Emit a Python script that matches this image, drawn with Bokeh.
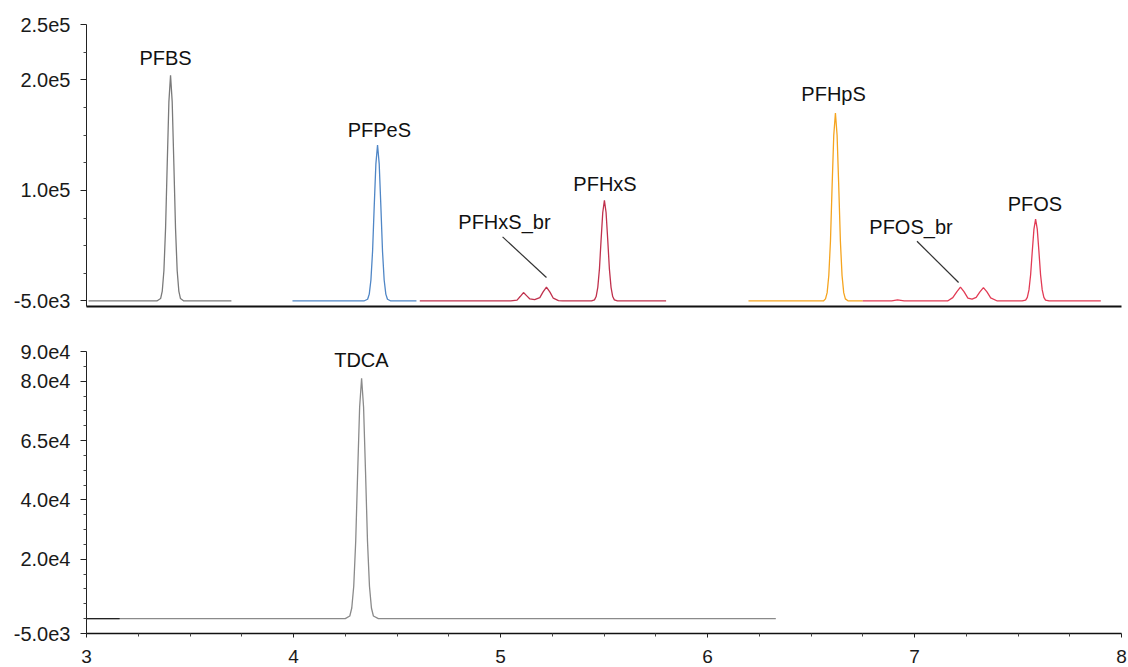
from bokeh.plotting import figure
from bokeh.layouts import column
from bokeh.models import FixedTicker, Range1d
from bokeh.core.properties import value
from bokeh.embed import file_html
from bokeh.resources import INLINE

FONT = "Liberation Sans"

# ---------------- data ----------------
pfbs_x = [3.01, 3.34, 3.358, 3.366, 3.374, 3.382, 3.390, 3.398, 3.406, 3.414, 3.422, 3.430, 3.438, 3.446, 3.454, 3.47, 3.70]
pfbs_y = [0, 0, 2200, 9000, 27500, 66000, 124000, 180000, 204000, 180000, 124000, 66000, 27500, 9000, 2200, 0, 0]

pfpes_x = [3.995, 4.34, 4.358, 4.366, 4.374, 4.382, 4.390, 4.398, 4.406, 4.414, 4.422, 4.430, 4.438, 4.446, 4.454, 4.47, 4.594]
pfpes_y = [0, 0, 1550, 6200, 19000, 45000, 86000, 124000, 141000, 124000, 86000, 45000, 19000, 6200, 1550, 0, 0]

pfhxs_x = [4.61, 5.05, 5.08, 5.095, 5.111, 5.127, 5.142, 5.165, 5.19, 5.205, 5.222, 5.239, 5.255, 5.28, 5.30,
           5.44, 5.454, 5.462, 5.470, 5.478, 5.486, 5.494, 5.502, 5.510, 5.518, 5.526, 5.534, 5.542, 5.550,
           5.565, 5.60, 5.80]
pfhxs_y = [0, 0, 800, 4000, 7600, 4600, 1800, 1200, 3000, 8000, 12600, 8000, 2500, 300, 0,
           0, 1000, 4000, 12300, 29000, 55500, 80000, 91000, 80000, 55500, 29000, 12300, 4000, 1000,
           0, 0, 0]

pfhps_x = [6.198, 6.56, 6.570, 6.578, 6.586, 6.594, 6.602, 6.610, 6.618, 6.626, 6.634, 6.642, 6.650, 6.658, 6.666, 6.68, 6.75]
pfhps_y = [0, 0, 1900, 7500, 23000, 54000, 104000, 150000, 170000, 150000, 104000, 54000, 23000, 7500, 1900, 0, 0]

pfos_x = [6.75, 6.89, 6.918, 6.95, 7.16, 7.185, 7.205, 7.222, 7.239, 7.258, 7.278, 7.298, 7.316, 7.333, 7.350,
          7.368, 7.40, 7.52, 7.537, 7.545, 7.553, 7.561, 7.569, 7.577, 7.585, 7.593, 7.601, 7.609, 7.617, 7.625,
          7.633, 7.650, 7.68, 7.90]
pfos_y = [0, 0, 900, 0, 0, 3000, 8500, 12600, 8500, 2600, 1600, 3200, 8200, 12000, 8200,
          2800, 0, 0, 800, 3300, 10000, 23700, 45000, 65000, 74000, 65000, 45000, 23700, 10000, 3300,
          800, 0, 0, 0]

tdca_x = [3.0, 4.25, 4.272, 4.2815, 4.291, 4.3005, 4.310, 4.3195, 4.329, 4.3385, 4.348, 4.3575, 4.367, 4.3765, 4.386, 4.41, 6.33]
tdca_y = [0, 0, 900, 3600, 10900, 26000, 49400, 71300, 81000, 71300, 49400, 26000, 10900, 3600, 900, 0, 0]

istd_x = [3.0, 3.16]
istd_y = [0, 0]

# peak labels (top panel)
top_labels = ["PFBS", "PFPeS", "PFHxS_br", "PFHxS", "PFHpS", "PFOS_br", "PFOS"]
top_label_x = [3.382, 4.415, 5.019, 5.505, 6.609, 6.983, 7.582]
top_label_y = [219300, 155000, 71800, 105600, 187300, 67300, 87500]
# leader lines for branched isomers
lead_x0 = [5.010, 7.012]
lead_y0 = [58000, 54000]
lead_x1 = [5.222, 7.213]
lead_y1 = [21200, 16700]

bot_labels = ["TDCA"]
bot_label_x = [4.328]
bot_label_y = [87100]

# axis ticks
x_ticks = [3, 4, 5, 6, 7, 8]
x_minor = [3.25, 3.5, 3.75, 4.25, 4.5, 4.75, 5.25, 5.5, 5.75, 6.25, 6.5, 6.75, 7.25, 7.5, 7.75]
top_y_ticks = [0, 100000, 200000, 250000]
top_y_labels = ["-5.0e3", "1.0e5", "2.0e5", "2.5e5"]
top_y_minor = [25000, 50000, 75000, 125000, 150000, 175000, 225000]
bot_y_ticks = [-5000, 20000, 40000, 60000, 80000, 90000]
bot_y_labels = ["-5.0e3", "2.0e4", "4.0e4", "6.5e4", "8.0e4", "9.0e4"]
bot_y_minor = [0, 5000, 10000, 15000, 25000, 30000, 35000, 45000, 50000, 55000, 65000, 70000, 75000, 85000]

# ---------------- figures ----------------
x_range = Range1d(3, 8)


def base_fig(height, y0, y1, top, bottom):
    p = figure(width=1128, height=height, x_range=x_range, y_range=Range1d(y0, y1),
               output_backend="svg", toolbar_location=None,
               min_border_left=86, min_border_right=7, min_border_top=top, min_border_bottom=bottom)
    p.outline_line_color = None
    p.xgrid.visible = False
    p.ygrid.visible = False
    p.background_fill_color = "white"
    p.border_fill_color = "white"
    ya = p.yaxis[0]
    ya.axis_line_color = "#222222"
    ya.axis_line_width = 1
    ya.major_tick_in = 0
    ya.major_tick_out = 6
    ya.minor_tick_in = 0
    ya.minor_tick_out = 3
    ya.major_tick_line_color = "#222222"
    ya.minor_tick_line_color = "#444444"
    ya.major_label_text_font = FONT
    ya.major_label_text_font_size = "20px"
    ya.major_label_text_color = "#1a1a1a"
    ya.major_label_standoff = 10
    return p


# top panel
p1 = base_fig(338, -5000, 250000, 24, 32)
p1.yaxis[0].ticker = FixedTicker(ticks=top_y_ticks, minor_ticks=top_y_minor)
p1.yaxis[0].major_label_overrides = dict(zip(top_y_ticks, top_y_labels))
xa1 = p1.xaxis[0]
xa1.ticker = FixedTicker(ticks=[], minor_ticks=[])
xa1.major_label_text_font_size = "0px"
xa1.major_label_standoff = 0
xa1.major_tick_out = 0
xa1.major_tick_in = 0
xa1.minor_tick_out = 0
xa1.minor_tick_in = 0
xa1.axis_line_color = "#111111"
xa1.axis_line_width = 2

lw = 1.3
p1.line(pfbs_x, pfbs_y, line_color="#7a7a7a", line_width=lw)
p1.line(pfpes_x, pfpes_y, line_color="#4f86c6", line_width=lw)
p1.line(pfhxs_x, pfhxs_y, line_color="#c0314d", line_width=lw)
p1.line(pfhps_x, pfhps_y, line_color="#f5a41f", line_width=lw)
p1.line(pfos_x, pfos_y, line_color="#e23b55", line_width=lw)
p1.segment(x0=lead_x0, y0=lead_y0, x1=lead_x1, y1=lead_y1, line_color="#333333", line_width=1.2)
p1.text(x=top_label_x, y=top_label_y, text=top_labels, text_align="center", text_baseline="alphabetic",
        text_font=value(FONT), text_font_size="20px", text_color="#111111")

# bottom panel
p2 = base_fig(329, -5000, 90000, 13, 34)
p2.yaxis[0].ticker = FixedTicker(ticks=bot_y_ticks, minor_ticks=bot_y_minor)
p2.yaxis[0].major_label_overrides = dict(zip(bot_y_ticks, bot_y_labels))
xa2 = p2.xaxis[0]
xa2.ticker = FixedTicker(ticks=x_ticks, minor_ticks=x_minor)
xa2.axis_line_color = "#111111"
xa2.axis_line_width = 1.5
xa2.major_tick_in = 0
xa2.major_tick_out = 4
xa2.minor_tick_in = 0
xa2.minor_tick_out = 3
xa2.major_tick_line_color = "#222222"
xa2.minor_tick_line_color = "#444444"
xa2.major_label_text_font = FONT
xa2.major_label_text_font_size = "19px"
xa2.major_label_text_color = "#1a1a1a"
xa2.major_label_standoff = 12

p2.line(tdca_x, tdca_y, line_color="#8a8a8a", line_width=lw)
p2.line(istd_x, istd_y, line_color="#222222", line_width=lw)
p2.text(x=bot_label_x, y=bot_label_y, text=bot_labels, text_align="center", text_baseline="alphabetic",
        text_font=value(FONT), text_font_size="20px", text_color="#111111")

layout = column(p1, p2, spacing=0)
open("out.html", "w").write(file_html(layout, INLINE))
